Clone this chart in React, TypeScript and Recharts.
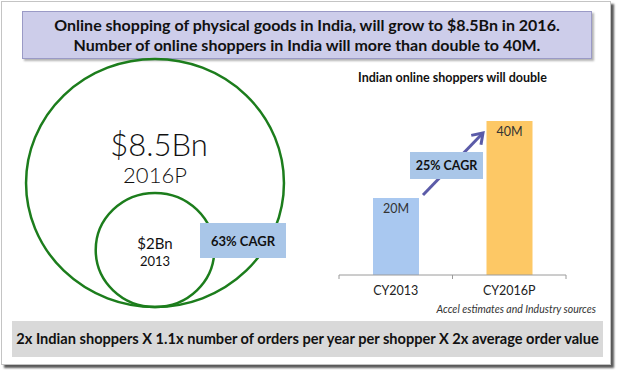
import React from 'react'
import { BarChart, Bar, XAxis, YAxis, Cell, LabelList, ScatterChart, Scatter, ZAxis } from 'recharts'

// market size circles (USD bn)
const circleValues = [8.5, 2]
const circleAmounts = ['$8.5Bn', '$2Bn']
const circleYears = ['2016P', '2013']

// online shoppers (millions)
const shopperYears = ['CY2013', 'CY2016P']
const shopperCounts = [20, 40]
const shopperLabels = ['20M', '40M']
const barColors = ['#a9c8f0', '#fdc865']

const circleData = circleValues.map((v, i) => ({ x: 0, y: 0, value: v, amount: circleAmounts[i], year: circleYears[i] }))
const barData = shopperYears.map((c, i) => ({ year: c, count: shopperCounts[i], label: shopperLabels[i] }))

const FONT = 'Lato, "Open Sans", sans-serif'
const GREEN = '#1c7d1c'

function Ring(props: any) {
  const { cx, cy, width, payload } = props
  const r = width / 2
  const c = cy - r
  const big = payload.value > 5
  return (
    <g>
      <ellipse cx={cx} cy={c} rx={r * 1.04} ry={r} fill="none" stroke={GREEN} strokeWidth={2.5} />
      <text x={cx + (big ? 4 : 0)} y={c + (big ? -39 : -7)} textAnchor="middle" dominantBaseline="central"
        fontSize={big ? 31 : 15} fontWeight={big ? 300 : 400} fill="#111" fontFamily={FONT}>{payload.amount}</text>
      <text x={cx} y={c + (big ? -9 : 11)} textAnchor="middle" dominantBaseline="central"
        fontSize={big ? 22 : 13} fontWeight={big ? 300 : 400} fill="#111" fontFamily={FONT}>{payload.year}</text>
    </g>
  )
}

function EdgeTick(props: any) {
  const { x, y, payload } = props
  const half = payload && payload.offset ? payload.offset : 56.75
  return (
    <g>
      <line x1={x - half} x2={x - half} y1={y} y2={y + 4} stroke="#9a9a9a" />
      <line x1={x + half} x2={x + half} y1={y} y2={y + 4} stroke="#9a9a9a" />
      <text x={x} y={y + 15} textAnchor="middle" dominantBaseline="central" fontSize={12.5} fill="#222" fontFamily={FONT}>
        {payload.value}
      </text>
    </g>
  )
}

function Arrow() {
  const x1 = 423, y1 = 195, x2 = 483, y2 = 133
  const a = Math.atan2(y2 - y1, x2 - x1)
  const len = 12
  const h1 = [x2 - len * Math.cos(a - 0.6), y2 - len * Math.sin(a - 0.6)]
  const h2 = [x2 - len * Math.cos(a + 0.6), y2 - len * Math.sin(a + 0.6)]
  return (
    <svg width={618} height={370} style={{ position: 'absolute', left: 0, top: 0 }}>
      <line x1={x1} y1={y1} x2={x2 - 1} y2={y2 + 1} stroke="#5b5ba8" strokeWidth={3} />
      <polyline points={`${h1[0]},${h1[1]} ${x2},${y2} ${h2[0]},${h2[1]}`} fill="none" stroke="#5b5ba8" strokeWidth={3} />
    </svg>
  )
}

export default function App() {
  return (
    <div style={{ position: 'relative', width: 618, height: 370, background: '#fff', fontFamily: FONT, overflow: 'hidden' }}>
      <style>{`body{margin:0}`}</style>
      <div style={{
        position: 'absolute', left: 1, top: 1, width: 610, height: 364, boxSizing: 'border-box',
        border: '1px solid #c4c4c4', boxShadow: '3px 3px 2px rgba(0,0,0,0.65)', background: '#fff',
      }} />

      <div style={{
        position: 'absolute', left: 22, top: 11, width: 570, height: 48, boxSizing: 'border-box',
        background: '#cdcdea', border: '1px solid #9a9ac6', boxShadow: '2px 2px 2px rgba(0,0,0,0.3)',
        textAlign: 'center', fontWeight: 700, fontSize: 16, lineHeight: '20px', paddingTop: 3, color: '#111',
      }}>
        Online shopping of physical goods in India, will grow to $8.5Bn in 2016.<br />
        Number of online shoppers in India will more than double to 40M.
      </div>

      <div style={{ position: 'absolute', left: 0, top: 0 }}>
        <ScatterChart width={310} height={370} margin={{ top: 0, right: 0, bottom: 63, left: 0 }}>
          <XAxis type="number" dataKey="x" domain={[-1, 1]} hide />
          <YAxis type="number" dataKey="y" domain={[0, 1]} hide />
          <ZAxis type="number" dataKey="value" domain={[2, 8.5]} range={[Math.PI * 57 * 57, Math.PI * 124 * 124]} />
          <Scatter data={circleData} shape={<Ring />} isAnimationActive={false} />
        </ScatterChart>
      </div>

      <div style={{
        position: 'absolute', left: 200, top: 223, width: 86, height: 35, background: '#a9c6e8',
        display: 'flex', alignItems: 'center', justifyContent: 'center', fontWeight: 700, fontSize: 13, color: '#111',
      }}>63% CAGR</div>

      <div style={{
        position: 'absolute', left: 330, top: 70, width: 245, textAlign: 'center', fontWeight: 700, fontSize: 12.5, color: '#111',
      }}>Indian online shoppers will double</div>

      <div style={{ position: 'absolute', left: 320, top: 60 }}>
        <BarChart width={290} height={250} data={barData} margin={{ top: 61, right: 44, bottom: 5, left: 19 }}>
          <XAxis dataKey="year" height={30} axisLine={{ stroke: '#9a9a9a' }} tickLine={false} tickSize={0} tickMargin={0} tick={<EdgeTick />} />
          <YAxis hide domain={[0, 40]} />
          <Bar dataKey="count" barSize={46} isAnimationActive={false}>
            {barData.map((d, i) => <Cell key={d.year} fill={barColors[i]} />)}
            <LabelList dataKey="label" position="insideTop" offset={6} fill="#333" fontSize={12.5} fontFamily={FONT} />
          </Bar>
        </BarChart>
      </div>

      <Arrow />

      <div style={{
        position: 'absolute', left: 410, top: 152, width: 73, height: 27, background: '#a9c6e8',
        display: 'flex', alignItems: 'center', justifyContent: 'center', fontWeight: 700, fontSize: 12.5, color: '#111',
      }}>25% CAGR</div>

      <div style={{
        position: 'absolute', right: 22, top: 303, fontStyle: 'italic', fontSize: 10.5, color: '#333',
      }}>Accel estimates and Industry sources</div>

      <div style={{
        position: 'absolute', left: 12, top: 321, width: 591, height: 36, background: '#d9d9d9',
        textAlign: 'center', lineHeight: '36px', fontWeight: 700, fontSize: 14.6, color: '#111',
      }}>2x Indian shoppers X 1.1x number of orders per year per shopper X 2x average order value</div>
    </div>
  )
}
